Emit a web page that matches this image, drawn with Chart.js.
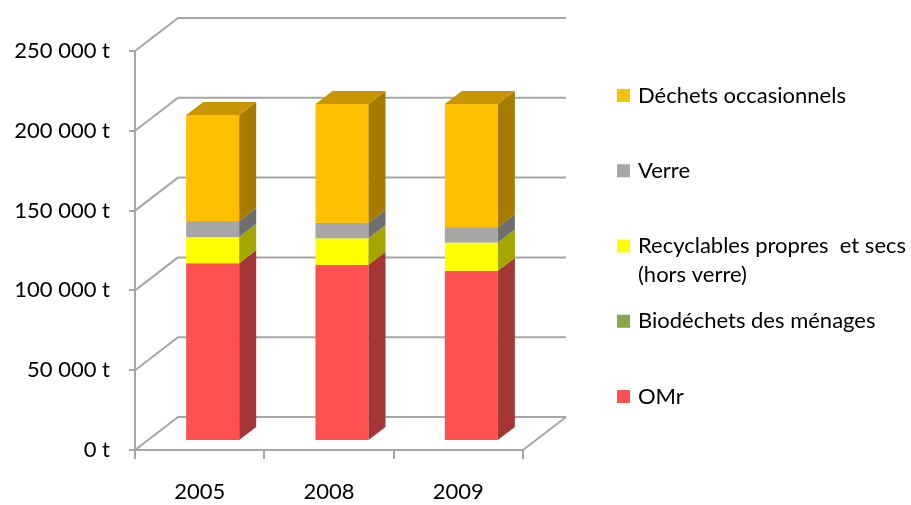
<!DOCTYPE html>
<html>
<head>
<meta charset="utf-8">
<script src="https://cdn.jsdelivr.net/npm/chart.js@4.4.1/dist/chart.umd.min.js"></script>
<style>
  html, body { margin: 0; padding: 0; background: #ffffff; }
  #c { display: block; }
</style>
</head>
<body>
<canvas id="c" width="911" height="505"></canvas>
<script>
// Tonnages collected per stream (t)
const years = ['2005', '2008', '2009'];
const omr = [111400, 110400, 106600];
const biodechets = [0, 0, 0];
const recyclables = [16400, 16600, 17700];
const verre = [10000, 9700, 9700];
const occasionnels = [66500, 74500, 77100];
const yTickValues = [0, 50000, 100000, 150000, 200000, 250000];
const seriesLabels = [
  'OMr',
  'Biodéchets des ménages',
  'Recyclables propres  et secs\n(hors verre)',
  'Verre',
  'Déchets occasionnels'
];

// face colours: front, side, top
const palette = [
  { front: '#ff5050', side: '#a53636', top: '#cc4040' },
  { front: '#8aa64c', side: '#5c6e33', top: '#6e853d' },
  { front: '#ffff00', side: '#a6a600', top: '#cccc00' },
  { front: '#a6a6a6', side: '#6e6e6e', top: '#858585' },
  { front: '#ffc000', side: '#a67c00', top: '#c89600' }
];

const FONT = { family: 'Lato, "DejaVu Sans", sans-serif', size: 22 };
const LINE = '#a6a6a6';
const WALL = { dx: 43, dy: -33 };       // depth of the plot box
const FACE = { dx: 13, dy: -9 };        // bar front face behind front plane
const BAR_DEPTH = { dx: 17, dy: -13 };  // bar thickness

const seriesData = [omr, biodechets, recyclables, verre, occasionnels];

function fmtTonnes(v) {
  return String(v).replace(/\B(?=(\d{3})+(?!\d))/g, ' ') + ' t';
}

const box3d = {
  id: 'box3d',
  beforeDatasetsDraw(chart) {
    const ctx = chart.ctx;
    const ys = chart.scales.y;
    const xs = chart.scales.x;
    const left = xs.left, right = xs.right;

    // side wall, back wall and floor
    ctx.save();
    ctx.strokeStyle = LINE;
    ctx.lineWidth = 2;
    ctx.lineJoin = 'round';
    yTickValues.forEach(v => {
      const yf = ys.getPixelForValue(v);
      ctx.beginPath();
      ctx.moveTo(left, yf);
      ctx.lineTo(left + WALL.dx, yf + WALL.dy);
      ctx.lineTo(right + WALL.dx, yf + WALL.dy);
      ctx.stroke();
    });
    const y0 = ys.getPixelForValue(0);
    ctx.beginPath();
    ctx.moveTo(right, y0);
    ctx.lineTo(right + WALL.dx, y0 + WALL.dy);
    ctx.stroke();
    ctx.restore();

    // stacked 3D bars
    const n = chart.data.labels.length;
    for (let i = 0; i < n; i++) {
      let topIdx = -1;
      chart.data.datasets.forEach((ds, d) => { if (ds.data[i] > 0) topIdx = d; });
      chart.data.datasets.forEach((ds, d) => {
        if (!(ds.data[i] > 0)) return;
        const el = chart.getDatasetMeta(d).data[i];
        const p = el.getProps(['x', 'y', 'base', 'width'], true);
        const xl = p.x - p.width / 2 + FACE.dx;
        const xr = p.x + p.width / 2 + FACE.dx;
        const yt = Math.min(p.y, p.base) + FACE.dy;
        const yb = Math.max(p.y, p.base) + FACE.dy;
        const c = palette[d];
        ctx.save();
        ctx.fillStyle = c.front;
        ctx.fillRect(xl, yt, xr - xl, yb - yt);
        ctx.fillStyle = c.side;
        ctx.beginPath();
        ctx.moveTo(xr, yt);
        ctx.lineTo(xr + BAR_DEPTH.dx, yt + BAR_DEPTH.dy);
        ctx.lineTo(xr + BAR_DEPTH.dx, yb + BAR_DEPTH.dy);
        ctx.lineTo(xr, yb);
        ctx.closePath();
        ctx.fill();
        if (d === topIdx) {
          ctx.fillStyle = c.top;
          ctx.beginPath();
          ctx.moveTo(xl, yt);
          ctx.lineTo(xl + BAR_DEPTH.dx, yt + BAR_DEPTH.dy);
          ctx.lineTo(xr + BAR_DEPTH.dx, yt + BAR_DEPTH.dy);
          ctx.lineTo(xr, yt);
          ctx.closePath();
          ctx.fill();
        }
        ctx.restore();
      });
    }
    return false;
  },
  afterDraw(chart) {
    // legend, top entry = top of the stack
    const ctx = chart.ctx;
    const ds = chart.data.datasets;
    const boxX = 617, textX = 638, firstY = 95.5, step = 75.25, lineH = 29;
    ctx.save();
    ctx.font = `${FONT.size}px ${FONT.family}`;
    ctx.textBaseline = 'middle';
    ctx.textAlign = 'left';
    for (let k = 0; k < ds.length; k++) {
      const d = ds.length - 1 - k;
      const cy = firstY + k * step;
      ctx.fillStyle = palette[d].front;
      ctx.fillRect(boxX, cy - 6.5, 13, 13);
      ctx.fillStyle = '#000000';
      seriesLabels[d].split('\n').forEach((line, j) => {
        ctx.fillText(line, textX, cy + j * lineH);
      });
    }
    ctx.restore();
  }
};

new Chart(document.getElementById('c'), {
  type: 'bar',
  data: {
    labels: years,
    datasets: seriesData.map((vals, d) => ({
      label: seriesLabels[d].replace('\n', ' '),
      data: vals,
      backgroundColor: palette[d].front,
      categoryPercentage: 1,
      barPercentage: 0.41
    }))
  },
  options: {
    responsive: false,
    animation: false,
    devicePixelRatio: 1,
    layout: { padding: { top: 51, right: 388, bottom: 0, left: 0 } },
    plugins: { legend: { display: false }, tooltip: { enabled: false } },
    scales: {
      x: {
        stacked: true,
        grid: { display: true, offset: true, drawOnChartArea: false, drawTicks: true, tickLength: 9, color: LINE, lineWidth: 2 },
        border: { display: true, color: LINE, width: 2 },
        ticks: { color: '#000000', font: FONT, padding: 20, maxRotation: 0 },
        afterFit(s) { s.height = 55; }
      },
      y: {
        stacked: true,
        min: 0,
        max: 250000,
        afterBuildTicks(s) { s.ticks = yTickValues.map(v => ({ value: v })); },
        grid: { display: true, drawOnChartArea: false, drawTicks: true, tickLength: 6, color: LINE, lineWidth: 2 },
        border: { display: true, color: LINE, width: 2 },
        ticks: { color: '#000000', font: FONT, padding: 19, callback: v => fmtTonnes(v) },
        afterFit(s) { s.width = 135; }
      }
    }
  },
  plugins: [box3d]
});
</script>
</body>
</html>
